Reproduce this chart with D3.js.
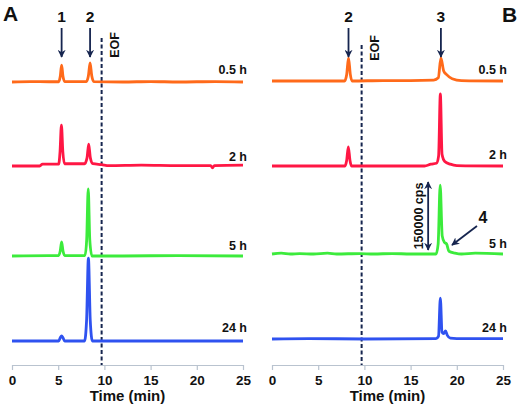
<!DOCTYPE html>
<html><head><meta charset="utf-8">
<script src="https://cdn.jsdelivr.net/npm/d3@7"></script>
<style>body{margin:0;background:#fff}svg{display:block;font-family:"Liberation Sans",Arial,sans-serif;font-weight:bold}</style>
</head><body><div id="chart"></div>
<script>
// ---------- DATA ----------
const timeTicks = [0, 5, 10, 15, 20, 25];
const sampleLabels = ["0.5 h", "2 h", "5 h", "24 h"];
const eofTime = 9.7;               // min
const scaleBarCps = 150;           // kcps (150000 cps)
// Panel A traces: [time (min), signal (kcps)]
const A_05 = [[0,0],[2,1],[4,0.5],[5.05,0.5],[5.22,12],[5.37,37],[5.52,12],[5.7,1],[8.05,1],[8.27,14],[8.45,42],[8.63,14],[8.85,1],[12,0],[15,1],[18,0],[22,1],[25,0]];
const A_2 = [[0,0],[3,0],[3.3,4],[5.05,4],[5.2,32],[5.35,90],[5.5,32],[5.68,5],[7.85,5],[8.12,18],[8.3,48],[8.48,18],[8.75,5],[9.7,3],[10.5,1],[14,2],[18,1],[21.5,1],[21.7,-4],[21.9,1],[25,2]];
const A_5 = [[0,0],[4,1],[5.05,1],[5.22,11],[5.37,31],[5.52,11],[5.7,1],[7.9,1],[8.08,35],[8.25,148],[8.42,35],[8.65,0],[12,0],[18,1],[25,0]];
const A_24 = [[0,0],[5.05,0],[5.22,7],[5.37,11],[5.52,7],[5.7,0],[7.85,0],[8.07,45],[8.27,183],[8.47,45],[8.7,0],[25,0]];
// Panel B traces
const B_05 = [[0,0],[7.85,0],[8.08,14],[8.28,51],[8.48,14],[8.65,0],[12,1],[15,1],[17.5,2],[18,7],[18.28,51],[18.58,22],[18.9,14],[19.5,5],[20.5,1],[25,0]];
const B_2 = [[0,0],[7.9,0],[8.08,12],[8.26,42],[8.44,12],[8.6,0],[16.5,0],[17.2,4],[17.8,6],[18.03,22],[18.22,159],[18.4,26],[18.7,10],[19.3,4],[20,1],[25,0]];
const B_5 = [[0,0],[1,2],[2,0],[3,1],[4.5,0],[6,2],[7,0],[9.5,1],[11,0],[13,1],[15,0],[17.75,0],[17.98,22],[18.2,152],[18.42,40],[18.65,26],[18.9,22],[19.15,6],[19.8,2],[20.5,0],[22,2],[25,0]];
const B_24 = [[0,0],[4,1],[10,0],[17.75,1],[18.02,6],[18.22,90],[18.4,15],[18.58,12],[18.78,18],[18.98,8],[19.3,2],[20,1],[25,1]];
const panelA = [A_05, A_2, A_5, A_24];
const panelB = [B_05, B_2, B_5, B_24];
const traceColors = ["#FF6A1A", "#FF1744", "#3CEB3C", "#2F52F0"];

// ---------- LAYOUT ----------
const W = 520, H = 408, navy = "#16254F";
const svg = d3.select("#chart").append("svg").attr("width", W).attr("height", H);
const axisY = 365;
const ySig = d3.scaleLinear().domain([0, scaleBarCps]).range([0, 68]); // kcps -> px height

function drawPanel(opt){
  const x = d3.scaleLinear().domain([0, 25]).range(opt.range);
  const g = svg.append("g");
  const ax = g.append("g").attr("transform", `translate(0,${axisY})`)
    .call(d3.axisBottom(x).tickValues(timeTicks).tickSize(5).tickPadding(5).tickSizeOuter(0));
  ax.select(".domain").attr("stroke", "#B9C3CF").attr("stroke-width", 1.2);
  ax.selectAll(".tick line").attr("stroke", "#B9C3CF").attr("stroke-width", 1.2);
  ax.selectAll(".tick text").attr("fill", "#111").attr("font-size", 13.5)
    .attr("font-weight", "bold").attr("font-family", "Liberation Sans, Arial, sans-serif");
  g.append("text").attr("x", (opt.range[0] + opt.range[1]) / 2).attr("y", 401)
    .attr("text-anchor", "middle").attr("font-size", 15).attr("fill", "#111").text("Time (min)");
  g.append("line").attr("x1", x(eofTime)).attr("x2", x(eofTime))
    .attr("y1", opt.eofTop).attr("y2", axisY).attr("stroke", navy)
    .attr("stroke-width", 2).attr("stroke-dasharray", "4,2.5");
  g.append("text").attr("transform", `translate(${x(eofTime) + 17},${opt.eofY}) rotate(-90)`)
    .attr("text-anchor", "middle").attr("font-size", 12.5).attr("fill", "#111").text("EOF");
  const line = d3.line().curve(d3.curveMonotoneX);
  opt.traces.forEach((tr, i) => {
    const base = opt.baselines[i];
    line.x(d => x(d[0])).y(d => base - ySig(d[1]));
    g.append("path").attr("d", line(tr)).attr("fill", "none")
      .attr("stroke", traceColors[i]).attr("stroke-width", 2.8)
      .attr("stroke-linejoin", "round");
    g.append("text").attr("x", opt.range[1] + 4).attr("y", opt.labelY[i])
      .attr("text-anchor", "end").attr("font-size", 12.5).attr("fill", "#111").text(sampleLabels[i]);
  });
  return x;
}

const defs = svg.append("defs");
defs.append("marker").attr("id", "ah").attr("viewBox", "0 0 10 10").attr("refX", 9).attr("refY", 5)
  .attr("markerWidth", 8).attr("markerHeight", 8).attr("markerUnits", "userSpaceOnUse").attr("orient", "auto-start-reverse")
  .append("path").attr("d", "M0,0 L10,5 L0,10 L3,5 Z").attr("fill", navy);

function arrow(x1, y1, x2, y2, both){
  const l = svg.append("line").attr("x1", x1).attr("y1", y1).attr("x2", x2).attr("y2", y2)
    .attr("stroke", navy).attr("stroke-width", 1.8).attr("marker-end", "url(#ah)");
  if (both) l.attr("marker-start", "url(#ah)");
}

const xA = drawPanel({range: [12, 243], traces: panelA, baselines: [82, 166, 256, 341],
  labelY: [74, 161, 250, 332], eofTop: 38, eofY: 45});
const xB = drawPanel({range: [272, 503], traces: panelB, baselines: [81, 166, 254, 339],
  labelY: [74, 159, 248, 332], eofTop: 45, eofY: 48});

svg.append("text").attr("x", 3).attr("y", 21).attr("font-size", 21).attr("fill", "#111").text("A");
svg.append("text").attr("x", 502).attr("y", 22).attr("font-size", 21).attr("fill", "#111").text("B");

const peakMarks = [[xA, 5.37, "1"], [xA, 8.45, "2"], [xB, 8.28, "2"], [xB, 18.28, "3"]];
peakMarks.forEach(([sx, t, lab]) => {
  svg.append("text").attr("x", sx(t)).attr("y", 22).attr("text-anchor", "middle")
    .attr("font-size", 15.5).attr("fill", "#111").text(lab);
  arrow(sx(t), 28, sx(t), 57);
});

arrow(xB(16.9), 250, xB(16.9), 250 - ySig(scaleBarCps), true);
svg.append("text").attr("transform", `translate(${xB(16.9) - 5},216) rotate(-90)`)
  .attr("text-anchor", "middle").attr("font-size", 12.5).attr("fill", "#111").text("150000 cps");
svg.append("text").attr("x", 483).attr("y", 223).attr("text-anchor", "middle")
  .attr("font-size", 16).attr("fill", "#111").text("4");
arrow(477, 226, 452, 245);
</script></body></html>
